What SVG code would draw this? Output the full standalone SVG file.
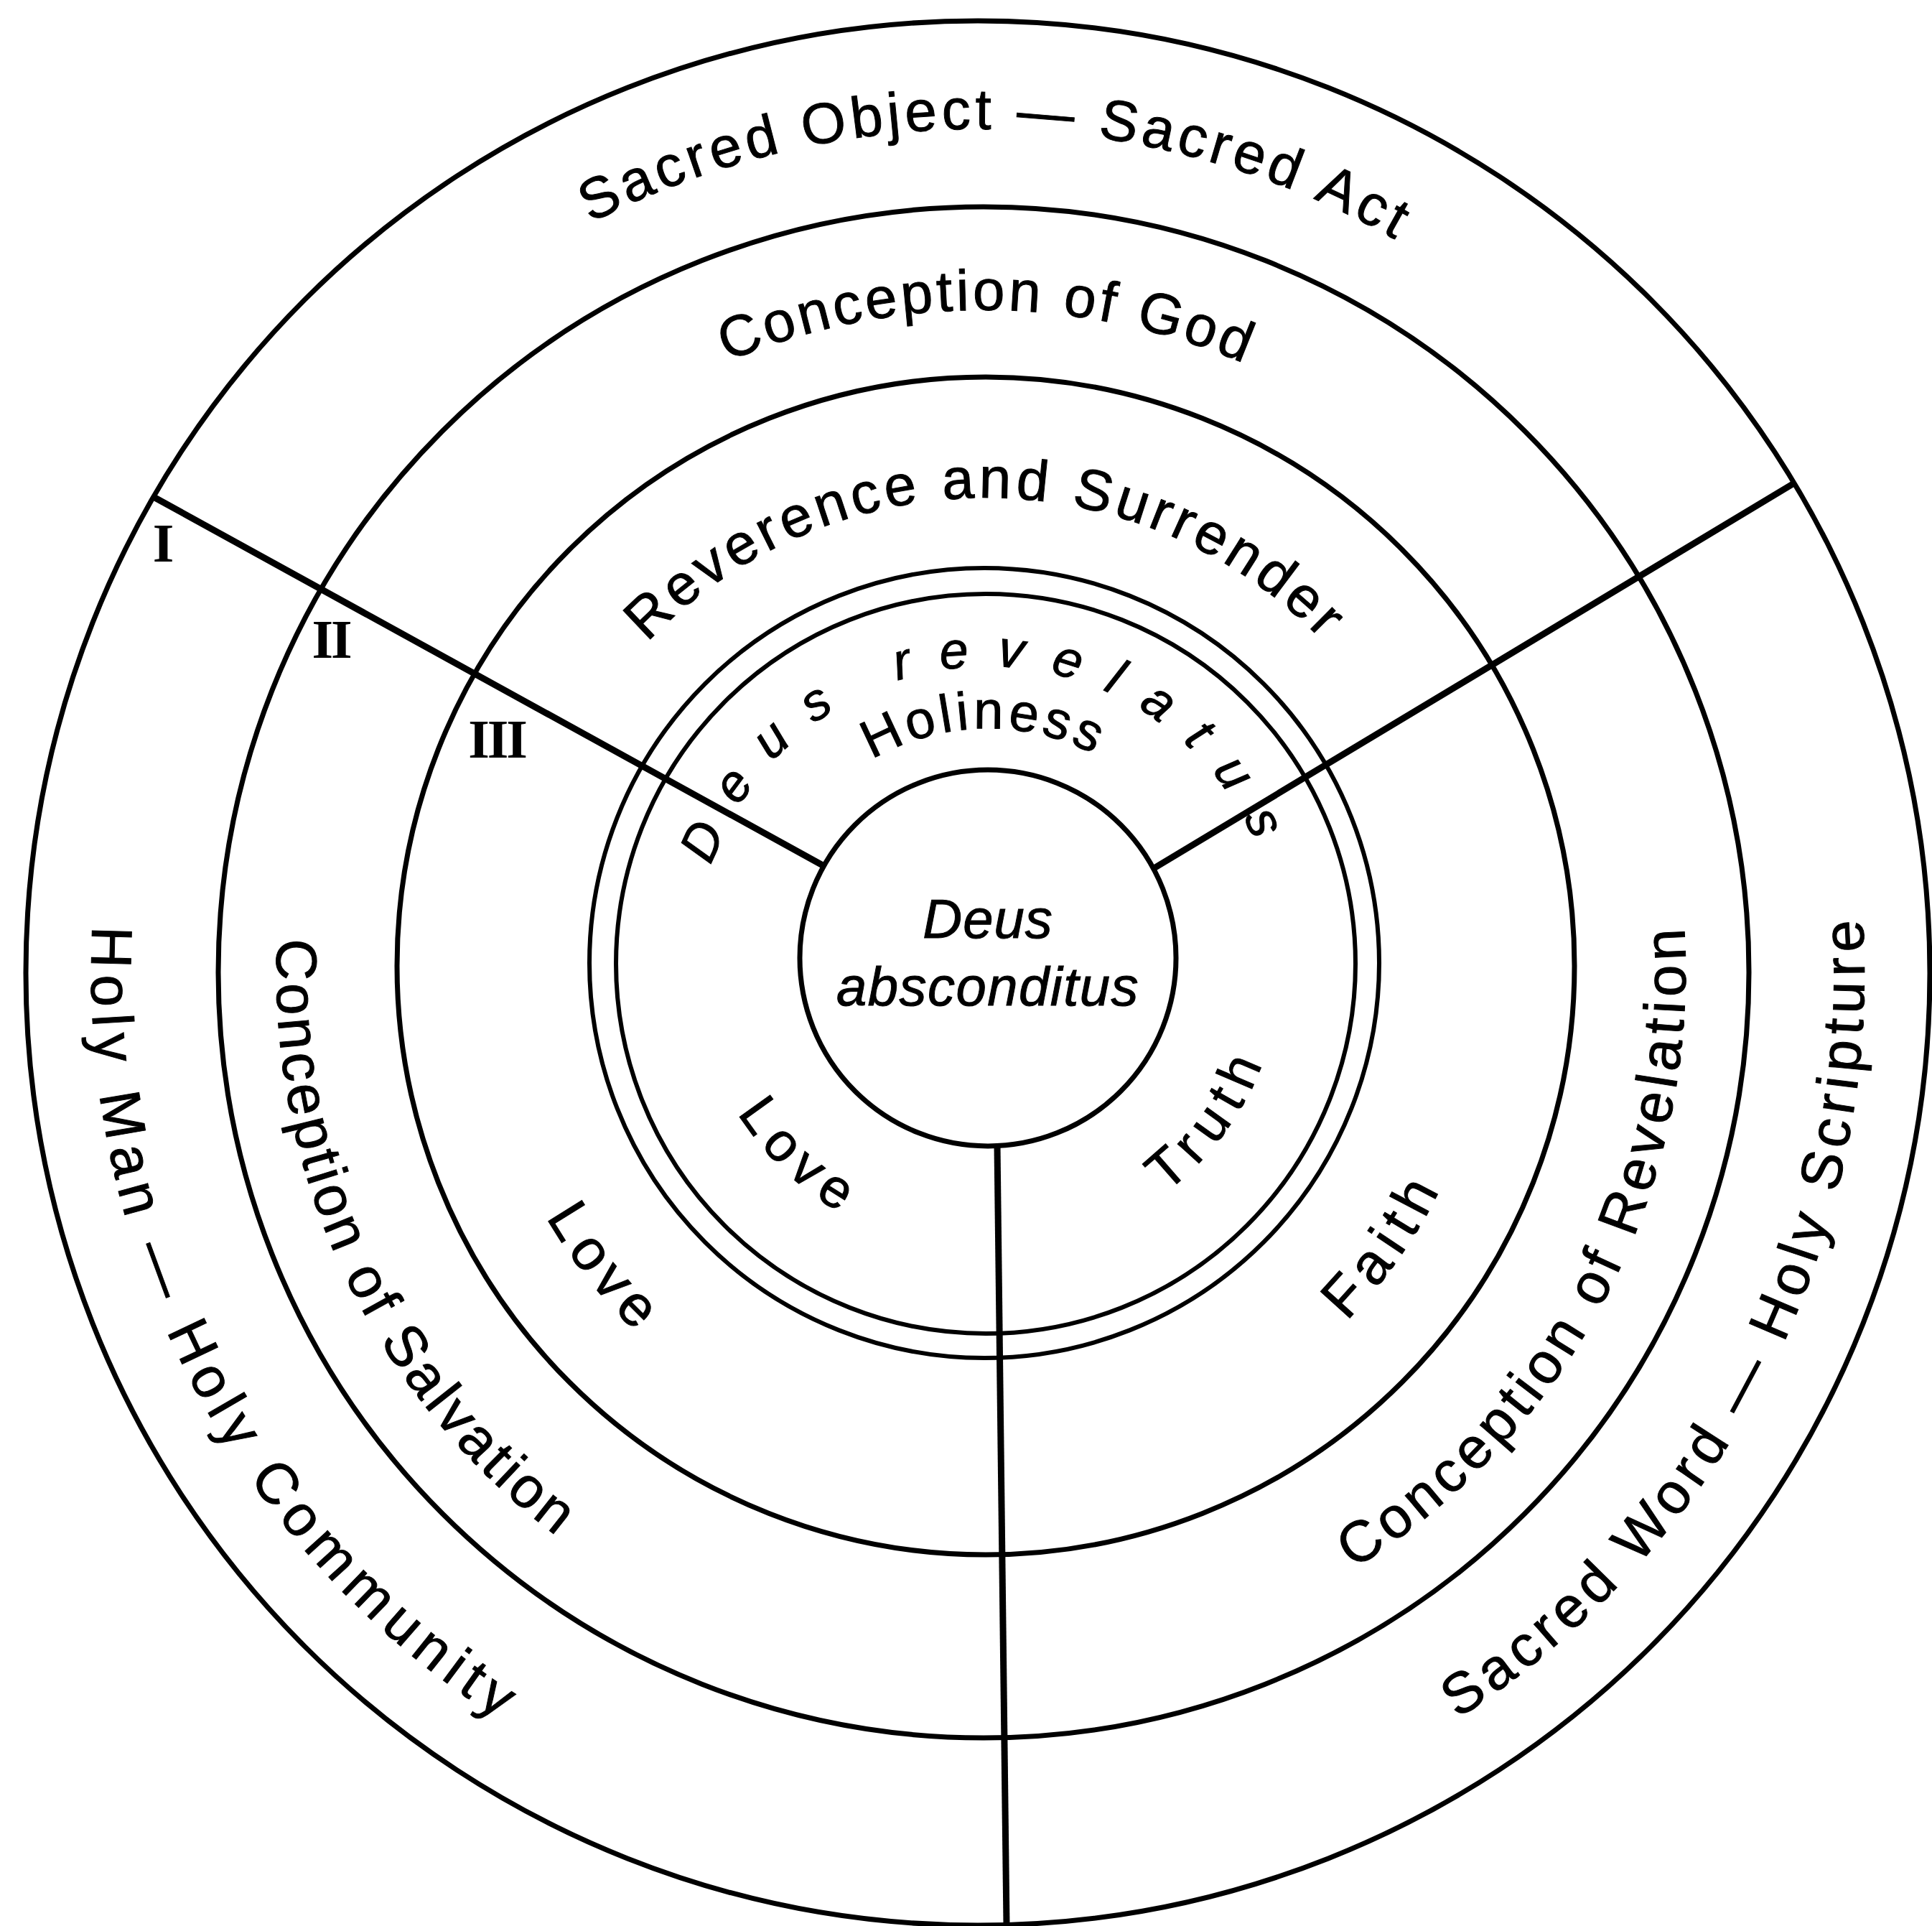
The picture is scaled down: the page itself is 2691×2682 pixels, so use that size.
<svg xmlns="http://www.w3.org/2000/svg" xmlns:xlink="http://www.w3.org/1999/xlink" width="2691" height="2682" viewBox="0 0 2691 2682">
<style>
.ring{fill:none;stroke:#000;stroke-width:7}
.thin{fill:none;stroke:#000;stroke-width:6}
.spoke{fill:none;stroke:#000;stroke-width:9;stroke-linecap:butt}
.lbl{font-family:"Liberation Sans",Arial,Helvetica,sans-serif;font-size:80px;fill:#000;stroke:#000;stroke-width:1}
.it{font-style:italic}
.num{font-family:"Liberation Serif","Times New Roman",serif;font-size:76px;font-weight:bold;fill:#000;text-anchor:middle;letter-spacing:-3px}
</style>
<defs>
<path id="pSOA" d="M194.1,1226.1 A1175,1175 0 0 1 2534.6,1279.2"/>
<path id="pHM" d="M700.2,312.3 A1235,1235 0 0 0 1832.6,2496.8"/>
<path id="pSW" d="M905.4,2502.5 A1235,1235 0 0 0 2011.0,304.3"/>
<path id="pCG" d="M451.9,1268.8 A922,922 0 0 1 2288.9,1278.5"/>
<path id="pCS" d="M874.5,502.7 A985,985 0 0 0 1710.1,2278.4"/>
<path id="pCR" d="M1002.1,2260.1 A978,978 0 0 0 1889.7,525.5"/>
<path id="pRS" d="M723.5,1288.2 A652,652 0 0 1 2022.5,1288.2"/>
<path id="pL3" d="M888.6,832.8 A705,705 0 0 0 1761.1,1933.6"/>
<path id="pF3" d="M1020.5,1955.5 A705,705 0 0 0 1826.2,804.9"/>
<path id="pDR" d="M972.5,1298.7 A405,405 0 0 1 1779.5,1298.7"/>
<path id="pHo" d="M1056.8,1311.7 A320,320 0 0 1 1694.2,1300.6"/>
<path id="pL4" d="M1054.7,1079.3 A410,410 0 0 0 1648.2,1640.6"/>
<path id="pT4" d="M1164.2,1685.1 A410,410 0 0 0 1645.5,1025.1"/>
</defs>
<rect width="2691" height="2682" fill="#fff"/>

<g id="ring-I">
<circle class="ring" cx="1362" cy="1355" r="1326"/>
<text class="lbl" letter-spacing="6"><textPath xlink:href="#pSOA" startOffset="50%" text-anchor="middle">Sacred Object — Sacred Act</textPath></text>
<text class="lbl" letter-spacing="10.5"><textPath xlink:href="#pHM" startOffset="50%" text-anchor="middle">Holy Man — Holy Community</textPath></text>
<text class="lbl" letter-spacing="8"><textPath xlink:href="#pSW" startOffset="50%" text-anchor="middle">Sacred Word — Holy Scripture</textPath></text>
<text class="num" x="226" y="782">I</text>
</g>

<g id="ring-II">
<circle class="ring" cx="1370" cy="1354" r="1066"/>
<text class="lbl" letter-spacing="4.5"><textPath xlink:href="#pCG" startOffset="50%" text-anchor="middle">Conception of God</textPath></text>
<text class="lbl" letter-spacing="5"><textPath xlink:href="#pCS" startOffset="50%" text-anchor="middle">Conception of Salvation</textPath></text>
<text class="lbl" letter-spacing="7"><textPath xlink:href="#pCR" startOffset="50%" text-anchor="middle">Conception of Revelation</textPath></text>
<text class="num" x="461" y="916">II</text>
</g>

<g id="ring-III">
<circle class="ring" cx="1373" cy="1345" r="820"/>
<text class="lbl" letter-spacing="5.8"><textPath xlink:href="#pRS" startOffset="50%" text-anchor="middle">Reverence and Surrender</textPath></text>
<text class="lbl" letter-spacing="10"><textPath xlink:href="#pL3" startOffset="50%" text-anchor="middle">Love</textPath></text>
<text class="lbl" letter-spacing="11.5"><textPath xlink:href="#pF3" startOffset="50%" text-anchor="middle">Faith</textPath></text>
<text class="num" x="692" y="1055">III</text>
</g>

<g id="deus-revelatus">
<circle class="thin" cx="1371" cy="1341" r="550"/>
<circle class="thin" cx="1373" cy="1342" r="515"/>
<text class="lbl it" style="font-size:72px" letter-spacing="38"><textPath xlink:href="#pDR" startOffset="50%" text-anchor="middle">Deus revelatus</textPath></text>
<text class="lbl" style="font-size:74px" letter-spacing="5.5"><textPath xlink:href="#pHo" startOffset="50%" text-anchor="middle">Holiness</textPath></text>
<text class="lbl" style="font-size:76px" letter-spacing="12"><textPath xlink:href="#pL4" startOffset="50%" text-anchor="middle">Love</textPath></text>
<text class="lbl" style="font-size:76px" letter-spacing="13"><textPath xlink:href="#pT4" startOffset="50%" text-anchor="middle">Truth</textPath></text>
</g>

<g id="deus-absconditus">
<circle class="ring" cx="1376" cy="1334" r="262"/>
<text class="lbl it" style="font-size:76px" x="1376" y="1306" text-anchor="middle" letter-spacing="1">Deus</text>
<text class="lbl it" style="font-size:76px" x="1376" y="1400" text-anchor="middle" letter-spacing="1.5">absconditus</text>
</g>

<g id="connectors">
<line class="spoke" x1="1146" y1="1205" x2="212" y2="691"/>
<line class="spoke" x1="1609" y1="1208" x2="2497" y2="674"/>
<line class="spoke" x1="1389" y1="1596" x2="1402" y2="2681"/>
</g>
</svg>
